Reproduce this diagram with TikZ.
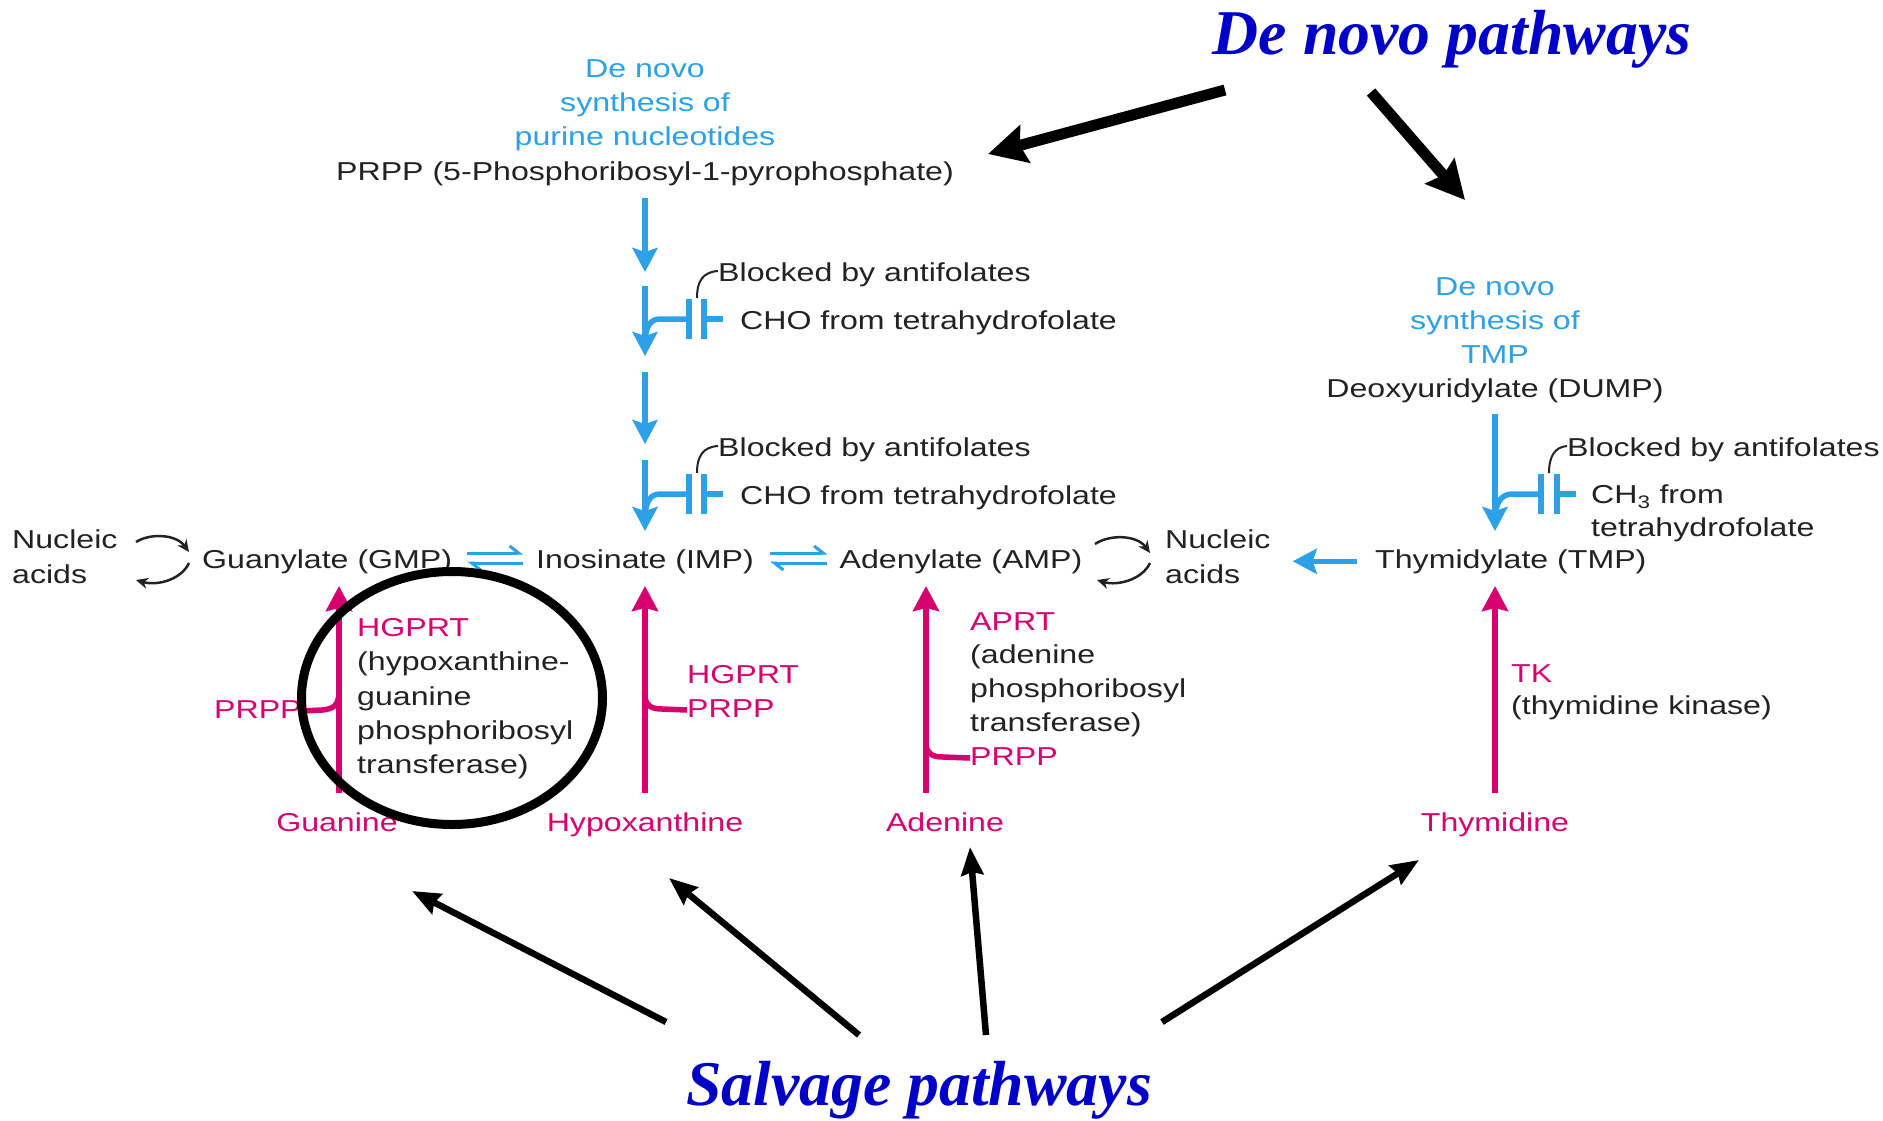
\documentclass[tikz,border=0pt]{standalone}
\usepackage{fontspec}
\usetikzlibrary{arrows.meta,shapes.geometric}
\setmainfont{Liberation Sans}[FakeStretch=1.24]
\newfontfamily\ttlfont{Liberation Serif}
\definecolor{bl}{HTML}{2AA1E8}
\definecolor{mg}{HTML}{D6006F}
\definecolor{tx}{HTML}{222222}
\definecolor{ttl}{HTML}{0000C8}
\begin{document}
\begin{tikzpicture}[x=1bp,y=-1bp,
  lbl/.style={inner sep=0pt, font=\fontsize{26}{34.5}\selectfont, text=tx},
  ttlbl/.style={inner sep=0pt, font={\fontsize{64}{70}\selectfont\ttlfont\bfseries\itshape}, text=ttl},
  blarr/.style={draw=bl, line width=5.5bp, -{Stealth[length=24bp,width=25bp,inset=4bp]}},
  blline/.style={draw=bl, line width=5.5bp},
  eqarr/.style={draw=bl, line width=3bp, -{Straight Barb[left,length=9bp,width=14bp]}},
  mgarr/.style={draw=mg, line width=5.5bp, -{Stealth[length=25bp,width=26bp,inset=3bp]}},
  mgline/.style={draw=mg, line width=5.5bp},
  thin/.style={draw=tx, line width=2bp},
  curl/.style={draw=tx, line width=2.5bp, -{Stealth[length=12bp,width=11bp]}},
  bigarr/.style={draw=black, line width=11bp, -{Stealth[length=38bp,width=38bp,inset=5bp]}},
  salarr/.style={draw=black, line width=6.5bp, -{Stealth[length=28bp,width=22bp,inset=3bp]}}
]
\fill[white] (0,0) rectangle (1883,1120);
\useasboundingbox (0,0) rectangle (1883,1120);

% titles
\node[ttlbl, anchor=base] (tdn) at (1452,54) {De novo pathways};
\node[ttlbl, anchor=base] (tsal) at (919,1105) {Salvage pathways};

% purine de novo
\node[lbl, text=bl, align=center, anchor=north] (dnpur) at (645,59) {De novo\\synthesis of\\purine nucleotides};
\node[lbl, anchor=base] (prpp) at (645,180.5) {PRPP (5-Phosphoribosyl-1-pyrophosphate)};

\coordinate (a1s) at (645,198); \coordinate (a1e) at (645,272);
\coordinate (a2s) at (645,286); \coordinate (a2e) at (645,356);
\coordinate (a3s) at (645,372); \coordinate (a3e) at (645,444);
\coordinate (a4s) at (645,460); \coordinate (a4e) at (645,531);
\draw[blarr] (a1s) -- (a1e);
\draw[blarr] (a2s) -- (a2e);
\draw[blarr] (a3s) -- (a3e);
\draw[blarr] (a4s) -- (a4e);

\node[lbl, anchor=base west] (blk1) at (718,281) {Blocked by antifolates};
\node[lbl, anchor=base west] (cho1) at (740,329) {CHO from tetrahydrofolate};
\node[lbl, anchor=base west] (blk2) at (718,456) {Blocked by antifolates};
\node[lbl, anchor=base west] (cho2) at (740,504) {CHO from tetrahydrofolate};

\foreach \yy/\bk/\ch in {319/blk1/cho1, 494/blk2/cho2} {
  \draw[blline] (689,\yy) -- (660,\yy) .. controls (650,\yy) and (646,\yy+8) .. (645,\yy+21);
  \draw[blline] (689,\yy-20) -- (689,\yy+20);
  \draw[blline] (704,\yy-20) -- (704,\yy+20);
  \draw[blline] (704,\yy) -- (\ch.west |- 0,\yy) [shorten >=17bp];
  \draw[thin] (697,\yy-21) .. controls (697,\yy-38) and (703,\yy-47) .. (\bk.west |- 0,\yy-48);
}

% main row
\node[lbl, anchor=north west, align=left] (nucL) at (12,530) {Nucleic\\acids};
\node[lbl, anchor=base west] (gmp) at (202,568) {Guanylate (GMP)};
\node[lbl, anchor=base] (imp) at (645,568) {Inosinate (IMP)};
\node[lbl, anchor=base] (amp) at (961,568) {Adenylate (AMP)};
\node[lbl, anchor=north west, align=left] (nucR) at (1165,530) {Nucleic\\acids};
\node[lbl, anchor=base west] (tmp) at (1375,568) {Thymidylate (TMP)};

\draw[eqarr] (gmp.east |- 0,553) -- (imp.west |- 0,553) [shorten <=15bp, shorten >=13bp];
\draw[eqarr] (imp.west |- 0,563) -- (gmp.east |- 0,563) [shorten <=13bp, shorten >=15bp];
\draw[eqarr] (imp.east |- 0,553) -- (amp.west |- 0,553) [shorten <=16bp, shorten >=12bp];
\draw[eqarr] (amp.west |- 0,563) -- (imp.east |- 0,563) [shorten <=12bp, shorten >=16bp];

% curl arrows
\coordinate (cl1) at (136,542); \coordinate (cl2) at (189,552);
\coordinate (cl3) at (189,563); \coordinate (cl4) at (136,580);
\draw[curl] (cl1) .. controls (150,533) and (176,534) .. (cl2);
\draw[curl] (cl3) .. controls (181,580) and (157,586) .. (cl4);
\coordinate (cr1) at (1095,544); \coordinate (cr2) at (1150,553);
\coordinate (cr3) at (1150,563); \coordinate (cr4) at (1097,580);
\draw[curl] (cr1) .. controls (1110,534) and (1137,535) .. (cr2);
\draw[curl] (cr3) .. controls (1142,580) and (1117,586) .. (cr4);

% thymidylate de novo
\node[lbl, text=bl, align=center, anchor=north] (dntmp) at (1495,277) {De novo\\synthesis of\\TMP};
\node[lbl, anchor=base] (dump) at (1495,397.5) {Deoxyuridylate (DUMP)};
\coordinate (t1s) at (1495,414); \coordinate (t1e) at (1495,531);
\draw[blarr] (t1s) -- (t1e);
\node[lbl, anchor=base west] (blk3) at (1567,456) {Blocked by antifolates};
\node[lbl, anchor=north west, align=left, font=\fontsize{26}{33}\selectfont] (ch3) at (1591,485) {CH\textsubscript{3} from\\tetrahydrofolate};
\draw[blline] (1541,494) -- (1512,494) .. controls (1502,494) and (1496,502) .. (1495,516);
\draw[blline] (1541,474) -- (1541,514);
\draw[blline] (1557,474) -- (1557,514);
\draw[blline] (1557,494) -- (ch3.west |- 0,494) [shorten >=15bp];
\draw[thin] (1549,473) .. controls (1549,456) and (1555,447) .. (blk3.west |- 0,446);
\draw[blarr] (tmp.west) -- (tmp.west -| nucR.east) [shorten <=18bp, shorten >=22bp];

% salvage
\node[lbl, text=mg, anchor=base] (guan) at (337,831) {Guanine};
\node[lbl, text=mg, anchor=base] (hypx) at (645,831) {Hypoxanthine};
\node[lbl, text=mg, anchor=base] (aden) at (945,831) {Adenine};
\node[lbl, text=mg, anchor=base] (thyd) at (1495,831) {Thymidine};

\coordinate (gB) at (339,793); \coordinate (gT) at (339,586);
\coordinate (hB) at (645,793); \coordinate (hT) at (645,586);
\coordinate (aB) at (926,793); \coordinate (aT) at (926,586);
\coordinate (tB) at (1495,793); \coordinate (tT) at (1495,586);
\draw[mgarr] (gB) -- (gT);
\draw[mgarr] (hB) -- (hT);
\draw[mgarr] (aB) -- (aT);
\draw[mgarr] (tB) -- (tT);

\node[lbl, text=mg, anchor=base west] (prppG) at (214,718) {PRPP};
\node[lbl, anchor=north west, align=left] (hgG) at (357,618) {\textcolor{mg}{HGPRT}\\(hypoxanthine-\\guanine\\phosphoribosyl\\transferase)};
\node[lbl, text=mg, anchor=north west, align=left] (hgH) at (687,665) {HGPRT\\PRPP};
\node[lbl, anchor=north west, align=left, font=\fontsize{26}{34}\selectfont] (aprt) at (970,612) {\textcolor{mg}{APRT}\\(adenine\\phosphoribosyl\\transferase)\\\textcolor{mg}{PRPP}};
\node[lbl, anchor=north west, align=left, font=\fontsize{26}{33}\selectfont] (tk) at (1511,664) {\textcolor{mg}{TK}\\(thymidine kinase)};

\draw[mgline] (prppG.east |- 0,711) -- (322,710) .. controls (334,709) and (338,705) .. (339,694);
\draw[mgline] (645,697) .. controls (646,706) and (652,709) .. (662,709) -- (hgH.west |- 0,710);
\draw[mgline] (926,745) .. controls (927,754) and (933,757) .. (943,757) -- (aprt.west |- 0,758);

% highlight ellipse
\node[draw=black, line width=9bp, ellipse, minimum width=301bp, minimum height=253bp, inner sep=0pt] (circ) at (452,698) {};

% big arrows
\coordinate (d1s) at (1225,90); \coordinate (d1e) at (988,154);
\coordinate (d2s) at (1371,92); \coordinate (d2e) at (1465,200);
\draw[bigarr] (d1s) -- (d1e);
\draw[bigarr] (d2s) -- (d2e);
\coordinate (s1s) at (666,1022); \coordinate (s1e) at (412,891);
\coordinate (s2s) at (859,1035); \coordinate (s2e) at (669,878);
\coordinate (s3s) at (986,1035); \coordinate (s3e) at (970,847);
\coordinate (s4s) at (1162,1022); \coordinate (s4e) at (1419,860);
\draw[salarr] (s1s) -- (s1e);
\draw[salarr] (s2s) -- (s2e);
\draw[salarr] (s3s) -- (s3e);
\draw[salarr] (s4s) -- (s4e);
\end{tikzpicture}
\end{document}
